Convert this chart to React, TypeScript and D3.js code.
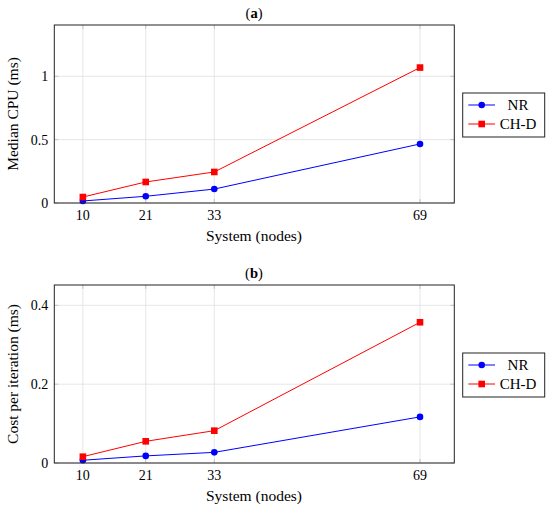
import React from 'react';
import * as d3 from 'd3';

// System sizes (nodes)
const systems = [10, 21, 33, 69];

// Panel (a): median CPU time (ms)
const cpuNR = [0.016, 0.053, 0.11, 0.466];
const cpuCHD = [0.047, 0.166, 0.245, 1.069];
const cpuTicks = [0, 0.5, 1];

// Panel (b): cost per iteration (ms)
const iterNR = [0.007, 0.018, 0.027, 0.117];
const iterCHD = [0.016, 0.055, 0.082, 0.357];
const iterTicks = [0, 0.2, 0.4];

const seriesNames = ['NR', 'CH-D'];
const seriesColors = ['#0000ff', '#ff0000'];

const FONT = '"Liberation Serif", "DejaVu Serif", serif';

interface PanelProps {
  top: number;
  label: string;
  yLabel: string;
  yMax: number;
  yTicks: number[];
  nr: number[];
  chd: number[];
}

function Panel({ top, label, yLabel, yMax, yTicks, nr, chd }: PanelProps) {
  const left = 54.3;
  const right = 454.3;
  const height = 178;
  const bottom = top + height;

  const x = d3.scaleLinear().domain([5, 75]).range([left, right]);
  const y = d3.scaleLinear().domain([0, yMax]).range([bottom, top]);
  const line = d3.line<number>().x((_, i) => x(systems[i])).y(d => y(d));
  const fmt = (v: number) => (v === 0 ? '0' : String(v));

  const legendTop = top + (height - 44) / 2 + 1;

  return (
    <g>
      <text x={254} y={top - 7.5} textAnchor="middle" fontSize={14.5}>
        (<tspan fontWeight="bold">{label}</tspan>)
      </text>

      {/* grid */}
      {systems.map(s => (
        <line key={'gx' + s} x1={x(s)} x2={x(s)} y1={top} y2={bottom} stroke="#e0e0e0" strokeWidth={0.8} />
      ))}
      {yTicks.map(t => (
        <line key={'gy' + t} x1={left} x2={right} y1={y(t)} y2={y(t)} stroke="#e0e0e0" strokeWidth={0.8} />
      ))}

      {/* tick marks */}
      {systems.map(s => (
        <g key={'tx' + s}>
          <line x1={x(s)} x2={x(s)} y1={bottom} y2={bottom - 4} stroke="#bbb" strokeWidth={0.8} />
          <line x1={x(s)} x2={x(s)} y1={top} y2={top + 4} stroke="#bbb" strokeWidth={0.8} />
          <text x={x(s)} y={bottom + 16.5} textAnchor="middle" fontSize={14}>{s}</text>
        </g>
      ))}
      {yTicks.map(t => (
        <g key={'ty' + t}>
          <line x1={left} x2={left + 4} y1={y(t)} y2={y(t)} stroke="#bbb" strokeWidth={0.8} />
          <line x1={right} x2={right - 4} y1={y(t)} y2={y(t)} stroke="#bbb" strokeWidth={0.8} />
          <text x={left - 6} y={y(t)} dy="0.35em" textAnchor="end" fontSize={14}>{fmt(t)}</text>
        </g>
      ))}

      {/* series */}
      <path d={line(nr) || ''} fill="none" stroke={seriesColors[0]} strokeWidth={1} />
      <path d={line(chd) || ''} fill="none" stroke={seriesColors[1]} strokeWidth={1} />
      {nr.map((v, i) => (
        <circle key={'n' + i} cx={x(systems[i])} cy={y(v)} r={3.3} fill={seriesColors[0]} />
      ))}
      {chd.map((v, i) => (
        <rect key={'c' + i} x={x(systems[i]) - 3.3} y={y(v) - 3.3} width={6.6} height={6.6} fill={seriesColors[1]} />
      ))}

      {/* frame */}
      <rect x={left} y={top} width={right - left} height={height} fill="none" stroke="#222" strokeWidth={1} />

      {/* axis labels */}
      <text x={254} y={bottom + 38} textAnchor="middle" fontSize={15.5}>System (nodes)</text>
      <text
        transform={`translate(18,${(top + bottom) / 2}) rotate(-90)`}
        textAnchor="middle"
        fontSize={15.5}
      >
        {yLabel}
      </text>

      {/* legend */}
      <rect x={462.7} y={legendTop} width={82} height={44} fill="#fff" stroke="#222" strokeWidth={1} />
      {seriesNames.map((name, i) => {
        const ly = legendTop + 12 + i * 19;
        return (
          <g key={name}>
            <line x1={468.3} x2={495} y1={ly} y2={ly} stroke={seriesColors[i]} strokeWidth={1} />
            {i === 0 ? (
              <circle cx={481.7} cy={ly} r={3.3} fill={seriesColors[i]} />
            ) : (
              <rect x={481.7 - 3.3} y={ly - 3.3} width={6.6} height={6.6} fill={seriesColors[i]} />
            )}
            <text x={518} y={ly} dy="0.35em" textAnchor="middle" fontSize={15}>{name}</text>
          </g>
        );
      })}
    </g>
  );
}

export default function App() {
  return (
    <svg
      width={550}
      height={507}
      style={{ position: 'absolute', left: 0, top: 0, background: '#fff' }}
      fontFamily={FONT}
    >
      <Panel top={25} label="a" yLabel="Median CPU (ms)" yMax={1.405} yTicks={cpuTicks} nr={cpuNR} chd={cpuCHD} />
      <Panel top={285} label="b" yLabel="Cost per iteration (ms)" yMax={0.4516} yTicks={iterTicks} nr={iterNR} chd={iterCHD} />
    </svg>
  );
}
